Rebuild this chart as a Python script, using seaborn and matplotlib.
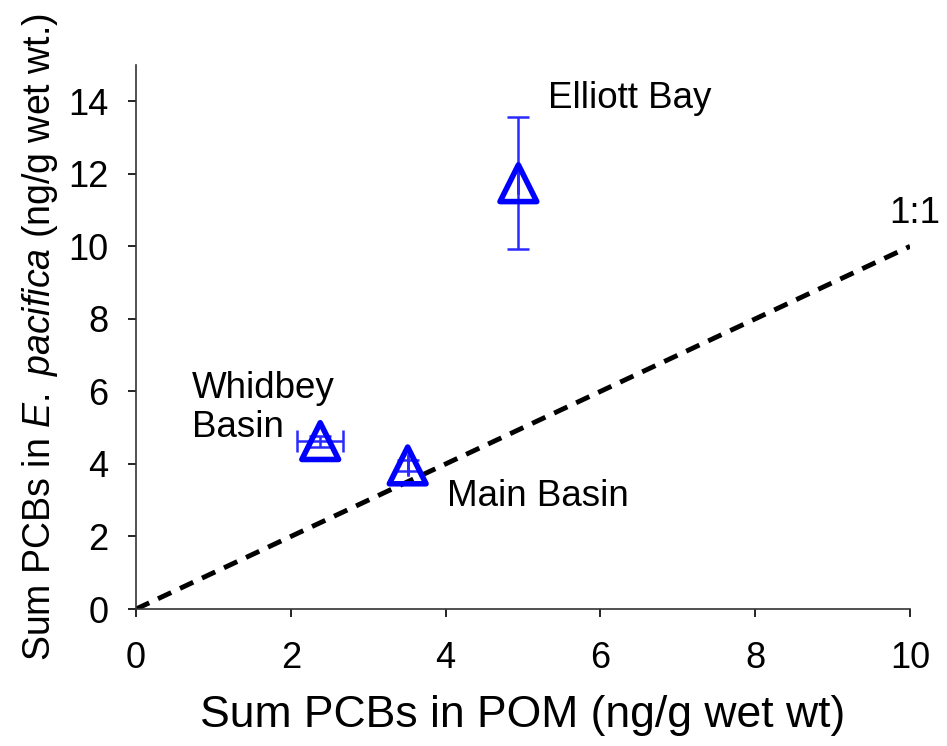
import matplotlib
matplotlib.use("Agg")
import matplotlib.pyplot as plt
import seaborn as sns
import pandas as pd

sites = ["Whidbey\nBasin", "Main Basin", "Elliott Bay"]
pom = [2.38, 3.51, 4.94]
krill = [4.63, 3.96, 11.74]
pom_err = [0.30, 0.0, 0.0]
krill_err = [0.15, 0.15, 1.82]
line_x = [0, 10]
line_y = [0, 10]

sns.set_style("ticks")
plt.rcParams['font.family'] = ['Liberation Sans', 'DejaVu Sans']
plt.rcParams['mathtext.fontset'] = 'custom'
plt.rcParams['mathtext.rm'] = 'Liberation Sans'
plt.rcParams['mathtext.it'] = 'Liberation Sans:italic'
plt.rcParams['text.color'] = 'black'
plt.rcParams['axes.labelcolor'] = 'black'
plt.rcParams['xtick.color'] = 'black'
plt.rcParams['ytick.color'] = 'black'

df = pd.DataFrame({"site": sites, "pom": pom, "krill": krill})

fig = plt.figure(figsize=(9.47, 7.46), dpi=100)
ax = fig.add_axes([0.1436, 0.1836, 0.8174, 0.7293])

sns.lineplot(x=line_x, y=line_y, ax=ax, color="black", lw=3.5, linestyle=(0, (3, 2)))
ax.errorbar(pom, krill, xerr=pom_err, yerr=krill_err, fmt="none", ecolor="#2a2aff",
            elinewidth=1.8, capsize=8, capthick=1.8, zorder=3)
sns.scatterplot(data=df, x="pom", y="krill", ax=ax, marker="^", s=700,
                facecolor="none", edgecolor="#0000ff", linewidth=4, zorder=4)

ax.set_xlim(0, 10)
ax.set_ylim(0, 15)
ax.set_xticks([0, 2, 4, 6, 8, 10])
ax.set_yticks([0, 2, 4, 6, 8, 10, 12, 14])
ax.tick_params(labelsize=26, length=6, width=1.2, direction="out", colors="black")
ax.tick_params(axis="x", pad=17)
ax.tick_params(axis="y", pad=14)
for s in ["top", "right"]:
    ax.spines[s].set_visible(False)
for s in ["left", "bottom"]:
    ax.spines[s].set_linewidth(1.2)
    ax.spines[s].set_color("#333333")

ax.set_xlabel("Sum PCBs in POM (ng/g wet wt)", fontsize=32, labelpad=14)
ax.set_ylabel(r"Sum PCBs in $\mathit{E.}$ $\mathit{pacifica}$ (ng/g wet wt.)",
              fontsize=27, labelpad=6)

ax.text(5.32, 14.08, "Elliott Bay", fontsize=26.5, ha="left", va="center")
ax.text(10.39, 10.9, "1:1", fontsize=26.5, ha="right", va="center", clip_on=False)
ax.text(0.72, 5.53, "Whidbey\nBasin", fontsize=26.5, ha="left", va="center", linespacing=1.15)
ax.text(4.02, 3.1, "Main Basin", fontsize=26.5, ha="left", va="center")

fig.savefig("out.png", dpi=100)
